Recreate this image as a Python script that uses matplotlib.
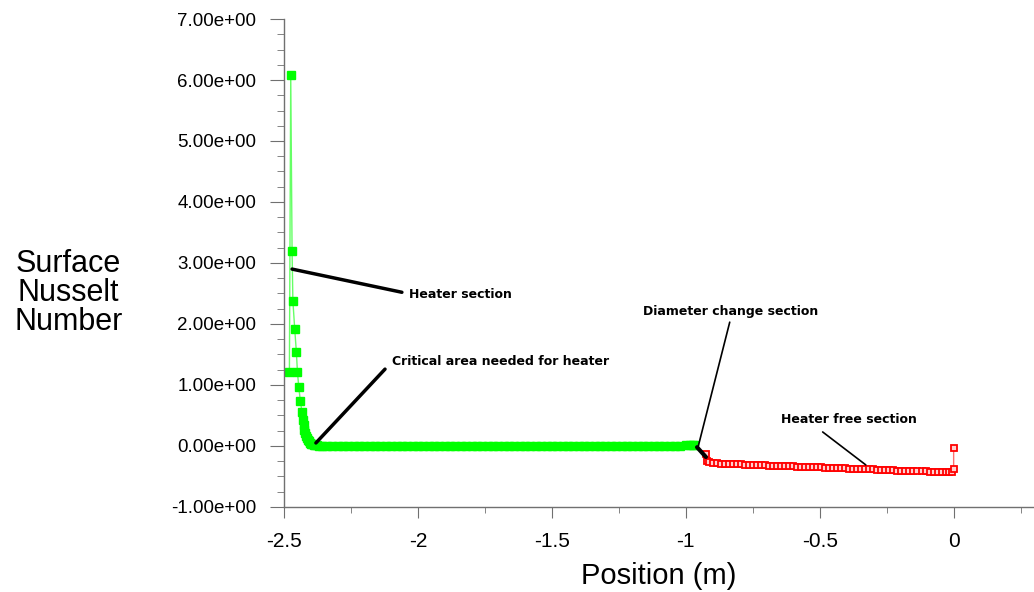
import matplotlib
matplotlib.use("Agg")
import matplotlib.pyplot as plt
from matplotlib.ticker import MultipleLocator, FuncFormatter

plt.rcParams['font.family'] = ['Liberation Sans', 'DejaVu Sans']
plt.rcParams['axes.unicode_minus'] = False

# Heater section (green) - position (m) and surface Nusselt number
heater_x = [-2.480, -2.475, -2.470, -2.467, -2.460, -2.454, -2.450, -2.445, -2.439,
            -2.433, -2.430, -2.427, -2.424, -2.421, -2.418, -2.415, -2.412, -2.408,
            -2.404, -2.400, -2.395, -2.390, -2.384, -2.377, -2.370,
            -2.36, -2.34, -2.32, -2.30, -2.28, -2.26, -2.24, -2.22, -2.20, -2.18,
            -2.16, -2.14, -2.12, -2.10, -2.08, -2.06, -2.04, -2.02, -2.00, -1.98,
            -1.96, -1.94, -1.92, -1.90, -1.88, -1.86, -1.84, -1.82, -1.80, -1.78,
            -1.76, -1.74, -1.72, -1.70, -1.68, -1.66, -1.64, -1.62, -1.60, -1.58,
            -1.56, -1.54, -1.52, -1.50, -1.48, -1.46, -1.44, -1.42, -1.40, -1.38,
            -1.36, -1.34, -1.32, -1.30, -1.28, -1.26, -1.24, -1.22, -1.20, -1.18,
            -1.16, -1.14, -1.12, -1.10, -1.08, -1.06, -1.04, -1.02, -1.00, -0.985,
            -0.975, -0.968]
heater_nu = [1.22, 6.08, 3.20, 2.38, 1.91, 1.54, 1.22, 0.96, 0.74,
             0.55, 0.43, 0.34, 0.27, 0.22, 0.17, 0.13, 0.10, 0.075,
             0.055, 0.04, 0.028, 0.02, 0.014, 0.01, 0.007,
             0.005, 0.005, 0.005, 0.005, 0.005, 0.005, 0.005, 0.005, 0.005, 0.005,
             0.005, 0.005, 0.005, 0.005, 0.005, 0.005, 0.005, 0.005, 0.005, 0.005,
             0.005, 0.005, 0.005, 0.005, 0.005, 0.005, 0.005, 0.005, 0.005, 0.005,
             0.005, 0.005, 0.005, 0.005, 0.005, 0.005, 0.005, 0.005, 0.005, 0.005,
             0.005, 0.005, 0.005, 0.005, 0.005, 0.005, 0.005, 0.005, 0.005, 0.005,
             0.005, 0.005, 0.005, 0.005, 0.005, 0.005, 0.005, 0.005, 0.005, 0.005,
             0.005, 0.005, 0.005, 0.005, 0.005, 0.005, 0.005, 0.008, 0.01, 0.015,
             0.018, 0.012]

# Heater free section (red)
free_x = [-0.925, -0.922, -0.912, -0.900, -0.885, -0.870, -0.855, -0.840, -0.825, -0.810,
          -0.795, -0.780, -0.765, -0.750, -0.735, -0.720, -0.705, -0.690, -0.675, -0.660,
          -0.645, -0.630, -0.615, -0.600, -0.585, -0.570, -0.555, -0.540, -0.525, -0.510,
          -0.495, -0.480, -0.465, -0.450, -0.435, -0.420, -0.405, -0.390, -0.375, -0.360,
          -0.345, -0.330, -0.315, -0.300, -0.285, -0.270, -0.255, -0.240, -0.225, -0.210,
          -0.195, -0.180, -0.165, -0.150, -0.135, -0.120, -0.105, -0.090, -0.075, -0.060,
          -0.045, -0.030, -0.018, -0.008, 0.0, 0.0]
free_nu = [-0.13, -0.24, -0.27, -0.28, -0.285, -0.29, -0.292, -0.295, -0.297, -0.30,
           -0.302, -0.305, -0.307, -0.31, -0.312, -0.315, -0.317, -0.32, -0.322, -0.325,
           -0.327, -0.33, -0.332, -0.335, -0.337, -0.34, -0.342, -0.345, -0.347, -0.35,
           -0.352, -0.355, -0.357, -0.36, -0.362, -0.365, -0.367, -0.37, -0.372, -0.375,
           -0.377, -0.38, -0.382, -0.385, -0.387, -0.39, -0.393, -0.396, -0.399, -0.402,
           -0.405, -0.408, -0.41, -0.412, -0.414, -0.416, -0.418, -0.42, -0.422, -0.425,
           -0.427, -0.43, -0.43, -0.42, -0.38, -0.03]

# Annotations: label, text anchor, line start, line end, line width
notes = [
    ("Heater section", (-2.034, 2.49), (-2.060, 2.52), (-2.470, 2.90), 2.5),
    ("Critical area needed for heater", (-2.097, 1.39), (-2.123, 1.26), (-2.381, 0.05), 2.5),
    ("Diameter change section", (-1.160, 2.21), (-0.836, 2.03), (-0.955, -0.03), 1.2),
    ("Heater free section", (-0.646, 0.43), (-0.489, 0.23), (-0.328, -0.31), 1.2),
]

fig = plt.figure(figsize=(10.34, 5.92), dpi=100)
ax = fig.add_axes([0.2747, 0.1436, 0.7253, 0.8243])

ax.plot(heater_x, heater_nu, color='#66ff66', lw=1.0, marker='s', markersize=5.5,
        markerfacecolor='#00ff00', markeredgecolor='#00ff00')
ax.plot(free_x, free_nu, color='#ff7070', lw=1.0, marker='s', markersize=5,
        markerfacecolor='#ffd0d0', markeredgecolor='red', markeredgewidth=1.3)

for label, txt, start, end, lw in notes:
    ax.annotate('', xy=end, xytext=start,
                arrowprops=dict(arrowstyle='-', color='black', lw=lw,
                                shrinkA=0, shrinkB=0))
    ax.text(txt[0], txt[1], label, fontsize=9, fontweight='bold',
            family='DejaVu Sans', ha='left', va='center')

# short thick piece at the end of the diameter change pointer
ax.annotate('', xy=(-0.925, -0.18), xytext=(-0.958, -0.02),
            arrowprops=dict(arrowstyle='-', color='black', lw=3, shrinkA=0, shrinkB=0))

ax.set_xlim(-2.5, 0.3)
ax.set_ylim(-1.0, 7.0)

ax.xaxis.set_major_locator(MultipleLocator(0.5))
ax.xaxis.set_minor_locator(MultipleLocator(0.25))
ax.yaxis.set_major_locator(MultipleLocator(1.0))
ax.yaxis.set_minor_locator(MultipleLocator(0.25))
ax.xaxis.set_major_formatter(FuncFormatter(lambda v, p: '%g' % v))
ax.yaxis.set_major_formatter(FuncFormatter(lambda v, p: '%.2e' % v))

for side in ['top', 'right']:
    ax.spines[side].set_visible(False)
for side in ['left', 'bottom']:
    ax.spines[side].set_color('#707070')
    ax.spines[side].set_linewidth(1.0)

ax.tick_params(axis='x', which='major', length=8, color='#707070', labelsize=15, pad=10)
ax.tick_params(axis='x', which='minor', length=4, color='#707070')
ax.tick_params(axis='y', which='major', length=10, color='#707070', labelsize=13.5, pad=10)
ax.tick_params(axis='y', which='minor', length=5, color='#707070')

ax.set_xlabel('Position (m)', fontsize=21, labelpad=8)
fig.text(0.066, 0.505, 'Surface\nNusselt\nNumber', fontsize=22, ha='center', va='center',
         multialignment='center', linespacing=0.95)

fig.savefig('out.png', dpi=100)
